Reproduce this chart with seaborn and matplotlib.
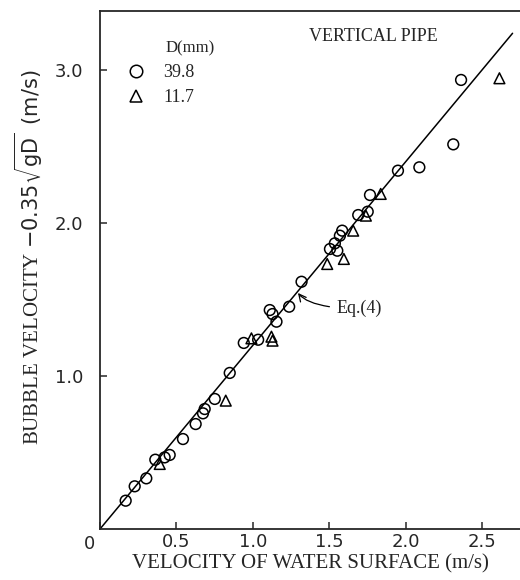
import numpy as np
import pandas as pd
import seaborn as sns
import matplotlib
matplotlib.use("Agg")
import matplotlib.pyplot as plt
from matplotlib.lines import Line2D

# D = 39.8 mm (circles)
circle_x = [0.168, 0.227, 0.303, 0.362, 0.423, 0.456, 0.543, 0.626, 0.674, 0.685,
            0.751, 0.849, 0.941, 1.035, 1.111, 1.129, 1.155, 1.238, 1.319, 1.505,
            1.537, 1.553, 1.570, 1.585, 1.690, 1.752, 1.767, 1.950, 2.090, 2.312, 2.363]
circle_y = [0.185, 0.279, 0.331, 0.453, 0.468, 0.484, 0.588, 0.686, 0.756, 0.784,
            0.850, 1.020, 1.216, 1.237, 1.431, 1.405, 1.355, 1.453, 1.616, 1.830,
            1.867, 1.819, 1.917, 1.950, 2.052, 2.074, 2.183, 2.342, 2.364, 2.514, 2.935]

# D = 11.7 mm (triangles)
tri_x = [0.391, 0.823, 0.991, 1.122, 1.129, 1.487, 1.596, 1.657, 1.740, 1.837, 2.614]
tri_y = [0.425, 0.839, 1.246, 1.257, 1.231, 1.732, 1.765, 1.950, 2.048, 2.190, 2.946]

# Eq.(4): slope C0 = 1.2
eq_x = np.array([0.0, 2.7])
eq_slope = 1.2

x_ticks = [0, 0.5, 1.0, 1.5, 2.0, 2.5]
x_ticklabels = ["", "0.5", "1.0", "1.5", "2.0", "2.5"]
y_ticks = [1.0, 2.0, 3.0]
y_ticklabels = ["1.0", "2.0", "3.0"]

df = pd.DataFrame({
    "vw": circle_x + tri_x,
    "vb": circle_y + tri_y,
    "D": ["39.8"] * len(circle_x) + ["11.7"] * len(tri_x),
})

sns.set_style("ticks")
plt.rcParams["font.family"] = ["DejaVu Sans"]
plt.rcParams["mathtext.fontset"] = "dejavusans"

fig = plt.figure(figsize=(5.2, 5.8), dpi=100)
ax = fig.add_axes([100 / 520, 1 - 529 / 580, 420 / 520, 518 / 580])

ax.plot(eq_x, eq_slope * eq_x, color="black", lw=1.1)

sns.scatterplot(data=df, x="vw", y="vb", style="D",
                markers={"39.8": "o", "11.7": "^"}, s=60,
                color="black", legend=False, ax=ax)
for coll in ax.collections:
    coll.set_facecolor("none")
    coll.set_edgecolor("black")
    coll.set_linewidth(1.1)

ax.set_xlim(0, 420 / 152.8)
ax.set_ylim(0, 518 / 153)
ax.set_xticks(x_ticks)
ax.set_xticklabels(x_ticklabels)
ax.set_yticks(y_ticks)
ax.set_yticklabels(y_ticklabels)
ax.tick_params(direction="in", length=5, width=1.1, labelsize=13)
ax.tick_params(axis="x", pad=3)
ax.tick_params(axis="y", pad=12)
ax.text(-0.024, -0.012, "0", transform=ax.transAxes, ha="center", va="top",
        fontsize=13)

for side in ["left", "bottom", "top"]:
    ax.spines[side].set_linewidth(1.3)
ax.spines["right"].set_visible(False)

serif = ["Liberation Serif", "DejaVu Serif"]
ax.set_xlabel("VELOCITY OF WATER SURFACE (m/s)", family=serif, fontsize=15,
              labelpad=2)
ax.set_ylabel(r"BUBBLE VELOCITY $-0.35\sqrt{\mathrm{gD}}$  $\mathrm{(m/s)}$",
              family=serif, fontsize=15)
ax.yaxis.set_label_coords(-0.131, 0.525)

ax.text(0.65, 0.95, "VERTICAL PIPE", transform=ax.transAxes, ha="center",
        va="center", family=serif, fontsize=13)
ax.text(0.155, 0.928, "D(mm)", transform=ax.transAxes, ha="left",
        va="center", family=serif, fontsize=12)

handles = [
    Line2D([], [], ls="none", marker="o", ms=9, mfc="none", mec="black", mew=1.1),
    Line2D([], [], ls="none", marker="^", ms=9, mfc="none", mec="black", mew=1.1),
]
ax.legend(handles, ["39.8", "11.7"], loc="upper left",
          bbox_to_anchor=(0.064, 0.898), frameon=False,
          prop={"family": serif, "size": 13}, handlelength=1.0,
          handletextpad=1.0, labelspacing=0.45, borderpad=0, borderaxespad=0)

ax.annotate("Eq.(4)", xy=(1.29, 1.55), xytext=(1.55, 1.44),
            family=serif, fontsize=13, va="center", ha="left",
            arrowprops=dict(arrowstyle="->", color="black", lw=0.9,
                            connectionstyle="angle3,angleA=0,angleB=-55",
                            shrinkA=3, shrinkB=1))

fig.savefig("out.png", dpi=100)
